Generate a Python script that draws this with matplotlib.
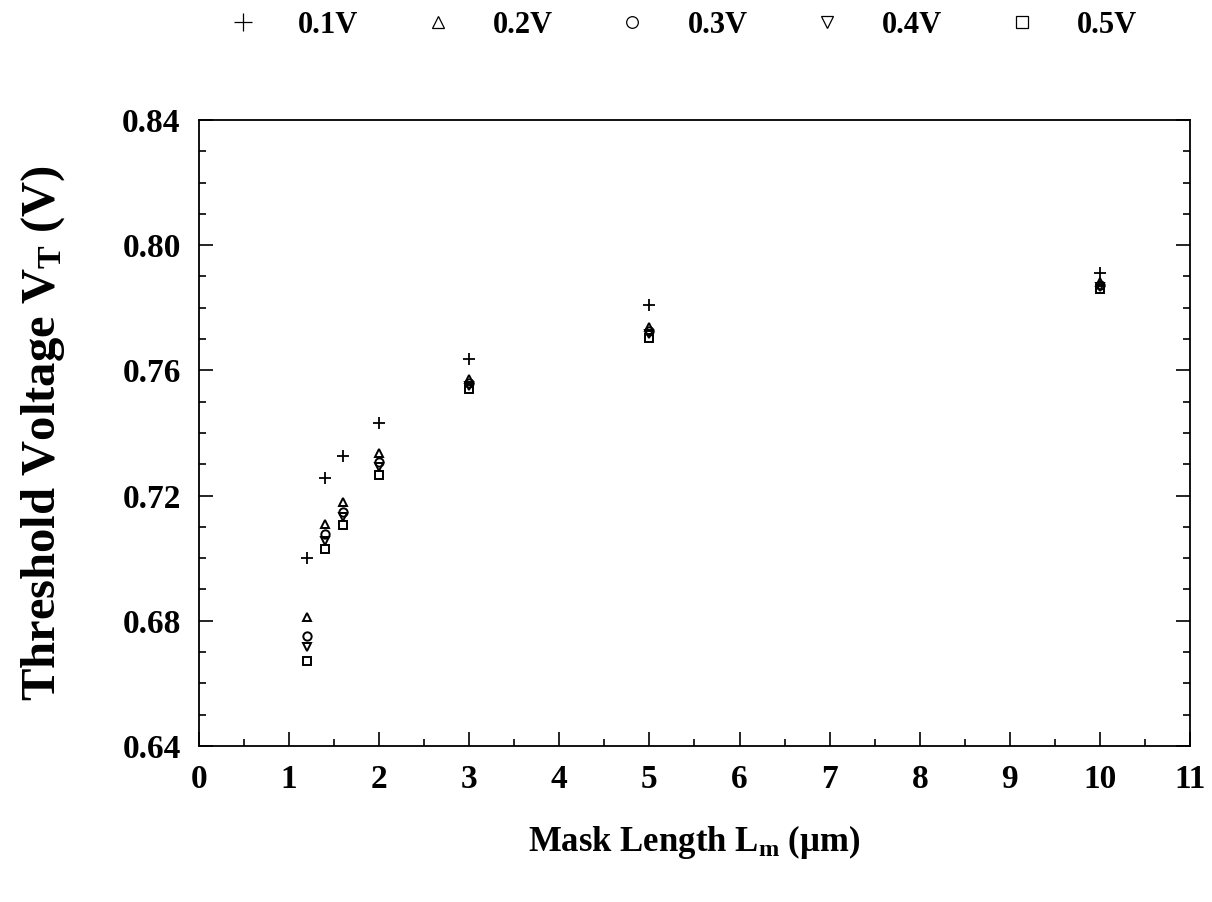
import numpy as np
import matplotlib.pyplot as plt
from matplotlib.ticker import MultipleLocator

# mask lengths (um)
mask_length = [1.2, 1.4, 1.6, 2, 3, 5, 10]

# threshold voltage for each drain bias
vt_01 = [0.7000, 0.7257, 0.7325, 0.7432, 0.7635, 0.7809, 0.7912]
vt_02 = [0.6812, 0.7108, 0.7178, 0.7337, 0.7573, 0.7739, 0.7882]
vt_03 = [0.6751, 0.7076, 0.7146, 0.7308, 0.7560, 0.7726, 0.7873]
vt_04 = [0.6716, 0.7054, 0.7130, 0.7292, 0.7550, 0.7716, 0.7866]
vt_05 = [0.6672, 0.7028, 0.7105, 0.7267, 0.7541, 0.7704, 0.7860]

labels = ['0.1V', '0.2V', '0.3V', '0.4V', '0.5V']
markers = ['+', '^', 'o', 'v', 's']
series = [vt_01, vt_02, vt_03, vt_04, vt_05]

plt.rcParams['font.family'] = ['Liberation Serif', 'DejaVu Serif']
plt.rcParams['mathtext.fontset'] = 'custom'
plt.rcParams['mathtext.rm'] = 'Liberation Serif:bold'
plt.rcParams['mathtext.it'] = 'Liberation Serif:bold'
plt.rcParams['mathtext.bf'] = 'Liberation Serif:bold'

fig = plt.figure(figsize=(12.12, 9.02), dpi=100)
ax = fig.add_axes([0.164, 0.173, 0.818, 0.694])

for vals, m, lab in zip(series, markers, labels):
    if m == '+':
        ax.plot(mask_length, vals, linestyle='none', marker=m, markersize=9,
                markeredgewidth=1.3, color='black', label=lab)
    else:
        ax.plot(mask_length, vals, linestyle='none', marker=m, markersize=6,
                markerfacecolor='none', markeredgewidth=1.4, color='black', label=lab)

ax.set_xlim(0, 11)
ax.set_ylim(0.64, 0.84)
ax.xaxis.set_major_locator(MultipleLocator(1))
ax.xaxis.set_minor_locator(MultipleLocator(0.5))
ax.yaxis.set_major_locator(MultipleLocator(0.04))
ax.yaxis.set_minor_locator(MultipleLocator(0.01))
ax.yaxis.set_major_formatter(plt.FormatStrFormatter('%.2f'))

ax.tick_params(which='both', direction='in', top=False, right=True, width=1.2)
ax.tick_params(which='major', length=10, labelsize=24, pad=13)
ax.tick_params(which='minor', length=5)
for t in ax.get_xticklabels() + ax.get_yticklabels():
    t.set_fontweight('bold')
for s in ax.spines.values():
    s.set_linewidth(1.3)

ax.set_xlabel(r'Mask Length L$_\mathregular{m}$ ($\mathregular{\mu}$m)',
              fontsize=25, fontweight='bold', labelpad=20)
ax.set_ylabel(r'Threshold Voltage V$_\mathregular{T}$ (V)',
              fontsize=35, fontweight='bold', labelpad=40)

leg = fig.legend(loc='center', bbox_to_anchor=(0.563, 0.972), ncol=5, frameon=False,
                 prop={'family': 'Liberation Serif', 'weight': 'bold', 'size': 22},
                 handlelength=1.0, handletextpad=1.3, columnspacing=2.1,
                 markerscale=1.4)
for h in leg.legend_handles:
    h.set_markeredgewidth(0.9)

plt.savefig('out.png', dpi=100)
